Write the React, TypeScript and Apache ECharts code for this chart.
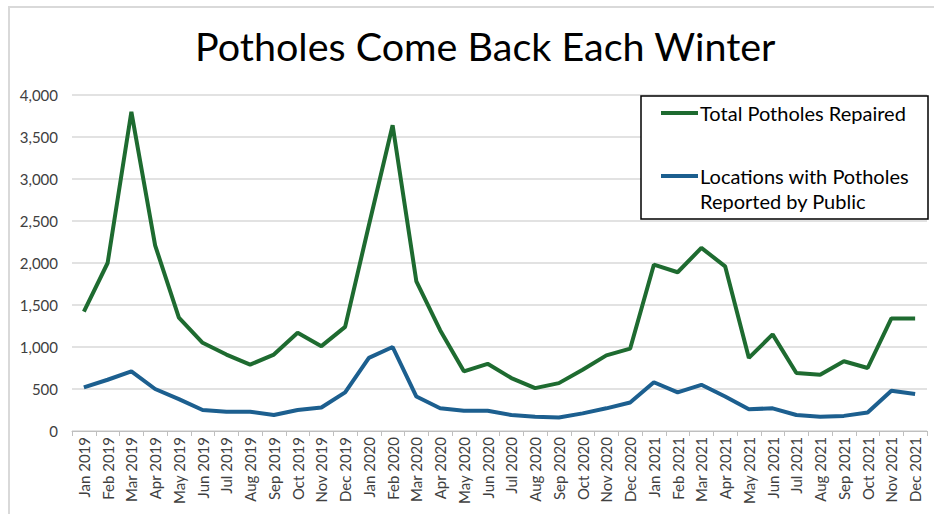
import React, { useEffect, useRef } from "react";
import * as echarts from "echarts";

const months = [
  "Jan 2019", "Feb 2019", "Mar 2019", "Apr 2019", "May 2019", "Jun 2019",
  "Jul 2019", "Aug 2019", "Sep 2019", "Oct 2019", "Nov 2019", "Dec 2019",
  "Jan 2020", "Feb 2020", "Mar 2020", "Apr 2020", "May 2020", "Jun 2020",
  "Jul 2020", "Aug 2020", "Sep 2020", "Oct 2020", "Nov 2020", "Dec 2020",
  "Jan 2021", "Feb 2021", "Mar 2021", "Apr 2021", "May 2021", "Jun 2021",
  "Jul 2021", "Aug 2021", "Sep 2021", "Oct 2021", "Nov 2021", "Dec 2021",
];

const totalRepaired = [
  1420, 2000, 3800, 2210, 1350, 1050, 910, 790, 910, 1170, 1010, 1240,
  2450, 3640, 1780, 1200, 710, 800, 630, 510, 570, 730, 900, 980,
  1980, 1890, 2180, 1960, 870, 1150, 690, 670, 830, 750, 1340, 1340,
];

const publicReported = [
  520, 610, 710, 500, 380, 250, 230, 230, 190, 250, 280, 460,
  870, 1000, 410, 270, 240, 240, 190, 170, 160, 210, 270, 340,
  580, 460, 550, 410, 260, 270, 190, 170, 180, 220, 480, 440,
];

const yTicks = [0, 500, 1000, 1500, 2000, 2500, 3000, 3500, 4000];

const seriesNames = ["Total Potholes Repaired", "Locations with Potholes\nReported by Public"];
const title = "Potholes Come Back Each Winter";

const GREEN = "#1e6b30";
const BLUE = "#1c5f8f";
const FONT = "Lato, 'Open Sans', sans-serif";

export default function App() {
  const ref = useRef<HTMLDivElement>(null);
  useEffect(() => {
    if (!ref.current) return;
    const chart = echarts.init(ref.current, null, { renderer: "svg" });
    const legendLines = seriesNames[1].split("\n");
    const LX = 641;
    const LY = 96;
    chart.setOption({
      animation: false,
      backgroundColor: "#fff",
      title: {
        text: title,
        left: 190,
        top: 20,
        textStyle: { fontFamily: FONT, fontSize: 39.5, fontWeight: "normal", color: "#000" },
      },
      grid: { left: 72, right: 7, top: 95, bottom: 83 },
      xAxis: {
        type: "category",
        data: months,
        boundaryGap: true,
        axisLine: { lineStyle: { color: "#bfbfbf", width: 1 } },
        axisTick: { show: true, length: 5, lineStyle: { color: "#bfbfbf" } },
        axisLabel: { rotate: 90, interval: 0, margin: 6, fontFamily: FONT, fontSize: 15, color: "#404040" },
      },
      yAxis: {
        type: "value",
        min: yTicks[0],
        max: yTicks[yTicks.length - 1],
        interval: 500,
        axisLine: { show: false },
        axisTick: { show: false },
        splitLine: { lineStyle: { color: "#d9d9d9", width: 1.5 } },
        axisLabel: {
          margin: 14,
          fontFamily: FONT,
          fontSize: 15,
          color: "#404040",
          formatter: (v: number) => v.toLocaleString("en-US"),
        },
      },
      series: [
        {
          name: seriesNames[0],
          type: "line",
          data: totalRepaired,
          symbol: "none",
          lineStyle: { color: GREEN, width: 4 },
          itemStyle: { color: GREEN },
        },
        {
          name: seriesNames[1],
          type: "line",
          data: publicReported,
          symbol: "none",
          lineStyle: { color: BLUE, width: 4 },
          itemStyle: { color: BLUE },
        },
      ],
      graphic: [
        {
          id: "frame",
          type: "polyline",
          shape: { points: [[9, 514], [9, 7], [934, 7]] },
          style: { stroke: "#d9d9d9", lineWidth: 2, fill: "none" },
          silent: true,
        },
        {
          id: "legendBox",
          type: "rect",
          shape: { x: LX, y: LY, width: 287, height: 123 },
          style: { fill: "#fff", stroke: "#000", lineWidth: 1.5 },
          z: 10,
        },
        {
          id: "legendLine1",
          type: "line",
          shape: { x1: LX + 20, y1: LY + 17, x2: LX + 57, y2: LY + 17 },
          style: { stroke: GREEN, lineWidth: 4 },
          z: 11,
        },
        {
          id: "legendText1",
          type: "text",
          x: LX + 59,
          y: LY + 17,
          style: { text: seriesNames[0], font: `20px ${FONT}`, fill: "#000", verticalAlign: "middle", align: "left" },
          z: 11,
        },
        {
          id: "legendLine2",
          type: "line",
          shape: { x1: LX + 20, y1: LY + 80, x2: LX + 57, y2: LY + 80 },
          style: { stroke: BLUE, lineWidth: 4 },
          z: 11,
        },
        {
          id: "legendText2",
          type: "text",
          x: LX + 59,
          y: LY + 80,
          style: { text: legendLines[0], font: `20px ${FONT}`, fill: "#000", verticalAlign: "middle", align: "left" },
          z: 11,
        },
        {
          id: "legendText3",
          type: "text",
          x: LX + 59,
          y: LY + 105,
          style: { text: legendLines[1], font: `20px ${FONT}`, fill: "#000", verticalAlign: "middle", align: "left" },
          z: 11,
        },
      ],
    });
    return () => chart.dispose();
  }, []);
  return (
    <div
      ref={ref}
      style={{ position: "absolute", left: 0, top: 0, width: 934, height: 514 }}
    />
  );
}
